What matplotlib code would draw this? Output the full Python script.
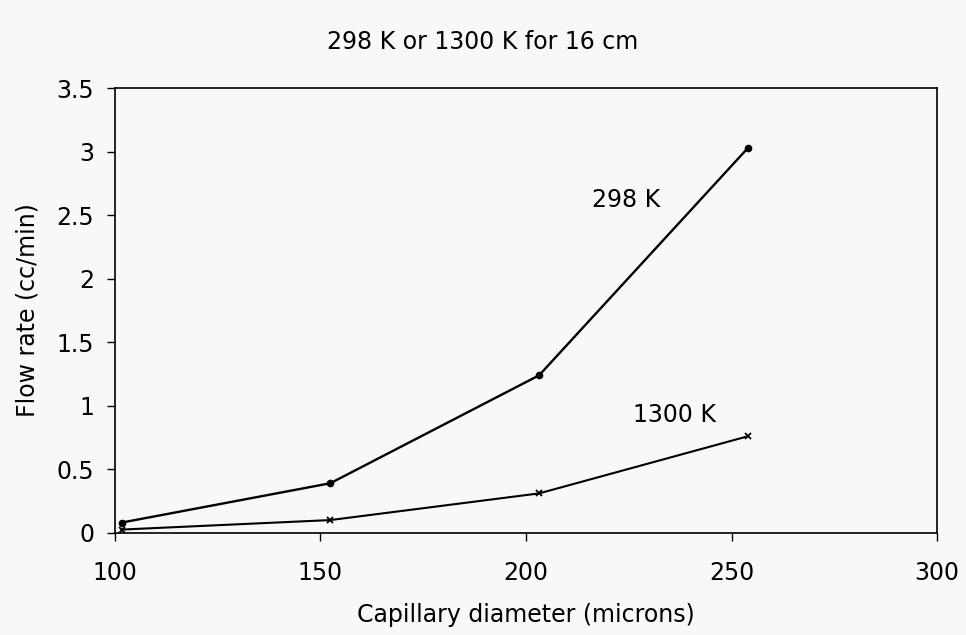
import matplotlib
matplotlib.use('Agg')
import matplotlib.pyplot as plt

# capillary diameters (microns) and flow rates (cc/min)
diameter = [101.6, 152.4, 203.2, 254.0]
flow_298 = [0.08, 0.39, 1.24, 3.03]
flow_1300 = [0.025, 0.10, 0.31, 0.76]

x_ticks = [100, 150, 200, 250, 300]
y_ticks = [0, 0.5, 1, 1.5, 2, 2.5, 3, 3.5]
y_labels = ['0', '0.5', '1', '1.5', '2', '2.5', '3', '3.5']

plt.rcParams['font.family'] = 'DejaVu Sans'
fs = 17
bg = '#f8f8f8'
fig = plt.figure(figsize=(9.66, 6.35), dpi=100, facecolor=bg)
ax = fig.add_axes([0.119, 0.161, 0.851, 0.700], facecolor=bg)

ax.plot(diameter, flow_298, color='black', lw=1.7, marker='o', ms=4.5)
ax.plot(diameter, flow_1300, color='black', lw=1.5, marker='x', ms=5, mew=1.3)

ax.text(216, 2.62, '298 K', fontsize=fs, va='center')
ax.text(226, 0.93, '1300 K', fontsize=fs, va='center')

ax.set_xlim(100, 300)
ax.set_ylim(0, 3.5)
ax.set_xticks(x_ticks)
ax.set_yticks(y_ticks)
ax.set_yticklabels(y_labels)
ax.tick_params(labelsize=fs, direction='out', length=6, width=1)
ax.tick_params(axis='x', pad=14)
ax.tick_params(axis='y', pad=9)
for s in ax.spines.values():
    s.set_linewidth(1.2)

ax.set_xlabel('Capillary diameter (microns)', fontsize=fs, labelpad=13)
ax.set_ylabel('Flow rate (cc/min)', fontsize=fs, labelpad=12)
fig.text(0.5, 0.934, '298 K or 1300 K for 16 cm', ha='center', va='center', fontsize=fs)

fig.savefig('out.png', dpi=100, facecolor=bg)
